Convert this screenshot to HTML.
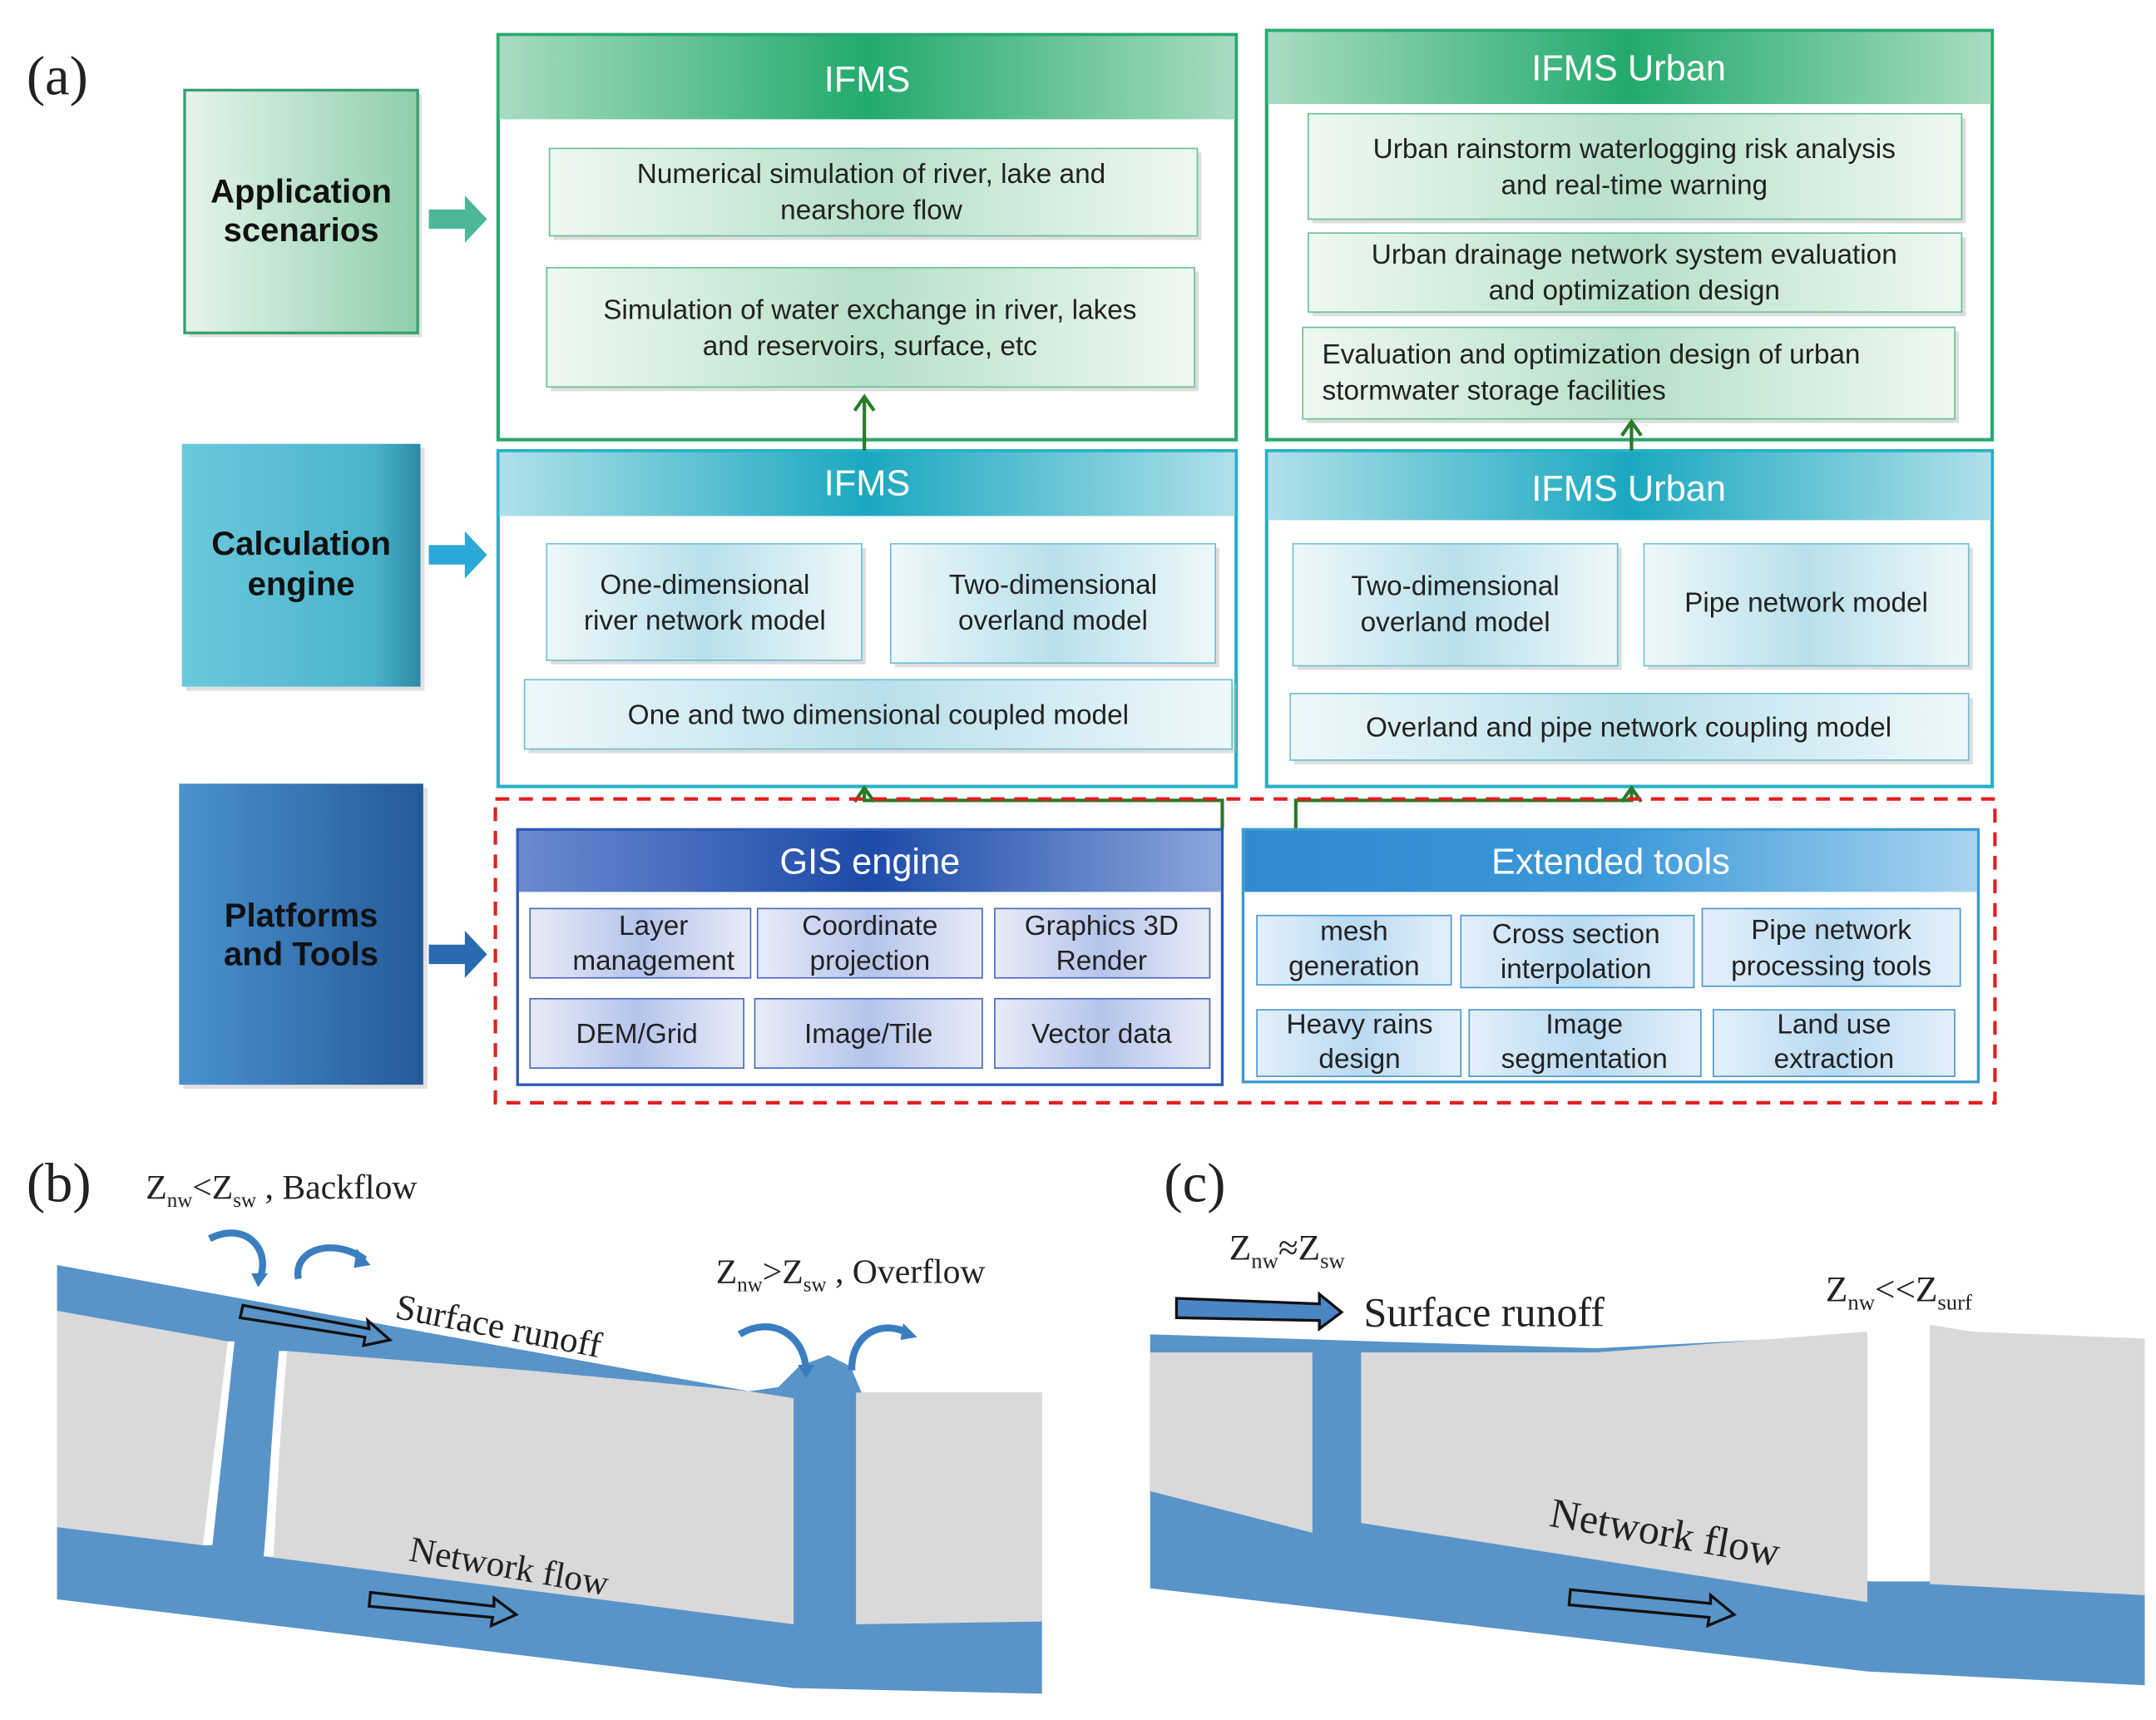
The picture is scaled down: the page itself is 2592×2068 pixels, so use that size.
<!DOCTYPE html>
<html><head><meta charset="utf-8"><style>
html,body{margin:0;padding:0;background:#fff;}
svg{display:block;}
.t{font-family:"Liberation Sans",sans-serif;font-size:20px;fill:#222;text-anchor:middle;}
.h{font-family:"Liberation Sans",sans-serif;font-size:26px;fill:#fff;text-anchor:middle;}
.b{font-family:"Liberation Sans",sans-serif;font-size:24px;font-weight:bold;fill:#111;text-anchor:middle;}
.s{font-family:"Liberation Serif",serif;fill:#222;}
</style></head><body>
<svg width="2592" height="2068" viewBox="0 0 1552 1240" xmlns="http://www.w3.org/2000/svg">
<defs>
<linearGradient id="gL" x1="0" x2="1"><stop offset="0" stop-color="#e6f4ec"/><stop offset="1" stop-color="#8fcfaa"/></linearGradient>
<linearGradient id="cL" x1="0" x2="1"><stop offset="0" stop-color="#6cc8dc"/><stop offset="0.8" stop-color="#4ab4cc"/><stop offset="1" stop-color="#2a8aa4"/></linearGradient>
<linearGradient id="bL" x1="0" x2="1"><stop offset="0" stop-color="#4a92d0"/><stop offset="1" stop-color="#255a98"/></linearGradient>
<linearGradient id="gH" x1="0" x2="1"><stop offset="0" stop-color="#a8dcc0"/><stop offset="0.5" stop-color="#22aa6c"/><stop offset="1" stop-color="#a8dcc0"/></linearGradient>
<linearGradient id="cH" x1="0" x2="1"><stop offset="0" stop-color="#b0e0ea"/><stop offset="0.5" stop-color="#1aa8c0"/><stop offset="1" stop-color="#b0e0ea"/></linearGradient>
<linearGradient id="bH" x1="0" x2="1"><stop offset="0" stop-color="#6a8ad0"/><stop offset="0.5" stop-color="#1c4aa8"/><stop offset="1" stop-color="#8aa6dc"/></linearGradient>
<linearGradient id="eH" x1="0" x2="1"><stop offset="0" stop-color="#2f8ad0"/><stop offset="0.5" stop-color="#3a98d8"/><stop offset="1" stop-color="#a8d4f0"/></linearGradient>
<linearGradient id="gC" x1="0" x2="1"><stop offset="0" stop-color="#eef8f2"/><stop offset="0.5" stop-color="#b6e0c8"/><stop offset="1" stop-color="#eef8f2"/></linearGradient>
<linearGradient id="cC" x1="0" x2="1"><stop offset="0" stop-color="#eef8fb"/><stop offset="0.5" stop-color="#b8e0ea"/><stop offset="1" stop-color="#eef8fb"/></linearGradient>
<linearGradient id="bC" x1="0" x2="1"><stop offset="0" stop-color="#e8ecf8"/><stop offset="0.5" stop-color="#b4c4ea"/><stop offset="1" stop-color="#e8ecf8"/></linearGradient>
<linearGradient id="eC" x1="0" x2="1"><stop offset="0" stop-color="#e4f0fa"/><stop offset="0.5" stop-color="#b8daf2"/><stop offset="1" stop-color="#e4f0fa"/></linearGradient>
</defs>

<text x="18" y="68" class="s" font-size="40">(a)</text>

<rect x="135" y="68" width="168" height="175" fill="#ccc" opacity=".6"/>
<rect x="132" y="65" width="168" height="175" fill="url(#gL)" stroke="#3aa070" stroke-width="2"/>
<text x="216" y="146" class="b">Application</text><text x="216" y="174" class="b">scenarios</text>
<rect x="133" y="323" width="172" height="175" fill="#ccc" opacity=".6"/>
<rect x="130" y="320" width="172" height="175" fill="url(#cL)"/>
<text x="216" y="400" class="b">Calculation</text><text x="216" y="429" class="b">engine</text>
<rect x="131" y="568" width="176" height="217" fill="#ccc" opacity=".6"/>
<rect x="128" y="565" width="176" height="217" fill="url(#bL)"/>
<text x="216" y="668" class="b">Platforms</text><text x="216" y="696" class="b">and Tools</text>
<path d="M308,151 h26 v-10 l16,17 -16,17 v-10 h-26z" fill="#4ab898"/>
<path d="M308,393 h26 v-10 l16,17 -16,17 v-10 h-26z" fill="#2aa8d8"/>
<path d="M308,681 h26 v-10 l16,17 -16,17 v-10 h-26z" fill="#2a6ab0"/>

<rect x="358" y="25" width="532" height="292" fill="#fff" stroke="#2aa870" stroke-width="2.5"/>
<rect x="359" y="26" width="530" height="60" fill="url(#gH)"/>
<text x="624" y="66" class="h">IFMS</text>
<rect x="398" y="110" width="467" height="63" fill="#bbb" opacity=".5"/>
<rect x="395" y="107" width="467" height="63" fill="url(#gC)" stroke="#6cc098"/>
<text x="627" y="132" class="t">Numerical simulation of river, lake and</text>
<text x="627" y="158" class="t">nearshore flow</text>
<rect x="396" y="196" width="467" height="86" fill="#bbb" opacity=".5"/>
<rect x="393" y="193" width="467" height="86" fill="url(#gC)" stroke="#6cc098"/>
<text x="626" y="230" class="t">Simulation of water exchange in river, lakes</text>
<text x="626" y="256" class="t">and reservoirs, surface, etc</text>

<rect x="912" y="22" width="523" height="295" fill="#fff" stroke="#2aa870" stroke-width="2.5"/>
<rect x="913" y="23" width="521" height="52" fill="url(#gH)"/>
<text x="1173" y="58" class="h">IFMS Urban</text>
<rect x="945" y="85" width="471" height="76" fill="#bbb" opacity=".5"/>
<rect x="942" y="82" width="471" height="76" fill="url(#gC)" stroke="#6cc098"/>
<text x="1177" y="114" class="t">Urban rainstorm waterlogging risk analysis</text>
<text x="1177" y="140" class="t">and real-time warning</text>
<rect x="945" y="171" width="471" height="57" fill="#bbb" opacity=".5"/>
<rect x="942" y="168" width="471" height="57" fill="url(#gC)" stroke="#6cc098"/>
<text x="1177" y="190" class="t">Urban drainage network system evaluation</text>
<text x="1177" y="216" class="t">and optimization design</text>
<rect x="941" y="239" width="470" height="66" fill="#bbb" opacity=".5"/>
<rect x="938" y="236" width="470" height="66" fill="url(#gC)" stroke="#6cc098"/>
<text x="952" y="262" class="t" style="text-anchor:start">Evaluation and optimization design of urban</text>
<text x="952" y="288" class="t" style="text-anchor:start">stormwater storage facilities</text>

<rect x="358" y="325" width="532" height="242" fill="#fff" stroke="#2ab0c8" stroke-width="2.5"/>
<rect x="359" y="326" width="530" height="46" fill="url(#cH)"/>
<text x="624" y="357" class="h">IFMS</text>
<rect x="396" y="395" width="227" height="84" fill="#bbb" opacity=".5"/>
<rect x="393" y="392" width="227" height="84" fill="url(#cC)" stroke="#70c0d4"/>
<text x="507" y="428" class="t">One-dimensional</text><text x="507" y="454" class="t">river network model</text>
<rect x="644" y="395" width="234" height="86" fill="#bbb" opacity=".5"/>
<rect x="641" y="392" width="234" height="86" fill="url(#cC)" stroke="#70c0d4"/>
<text x="758" y="428" class="t">Two-dimensional</text><text x="758" y="454" class="t">overland model</text>
<rect x="380" y="493" width="510" height="50" fill="#bbb" opacity=".5"/>
<rect x="377" y="490" width="510" height="50" fill="url(#cC)" stroke="#70c0d4"/>
<text x="632" y="522" class="t">One and two dimensional coupled model</text>

<rect x="912" y="325" width="523" height="242" fill="#fff" stroke="#2ab0c8" stroke-width="2.5"/>
<rect x="913" y="326" width="521" height="49" fill="url(#cH)"/>
<text x="1173" y="361" class="h">IFMS Urban</text>
<rect x="934" y="395" width="234" height="88" fill="#bbb" opacity=".5"/>
<rect x="931" y="392" width="234" height="88" fill="url(#cC)" stroke="#70c0d4"/>
<text x="1048" y="429" class="t">Two-dimensional</text><text x="1048" y="455" class="t">overland model</text>
<rect x="1187" y="395" width="234" height="88" fill="#bbb" opacity=".5"/>
<rect x="1184" y="392" width="234" height="88" fill="url(#cC)" stroke="#70c0d4"/>
<text x="1301" y="441" class="t">Pipe network model</text>
<rect x="932" y="503" width="489" height="48" fill="#bbb" opacity=".5"/>
<rect x="929" y="500" width="489" height="48" fill="url(#cC)" stroke="#70c0d4"/>
<text x="1173" y="531" class="t">Overland and pipe network coupling model</text>

<g stroke="#2a7a2a" stroke-width="2.5" fill="none">
<path d="M622,325 V287"/><path d="M615,296 l7,-10 7,10"/>
<path d="M1175,325 V306"/><path d="M1168,314 l7,-10 7,10"/>
<path d="M880,598 V577 H622 V569"/><path d="M615,578 l7,-10 7,10"/>
<path d="M933,598 V577 H1175 V569"/><path d="M1168,578 l7,-10 7,10"/>
</g>

<rect x="356" y="576" width="1081" height="219" fill="none" stroke="#e02020" stroke-width="2.5" stroke-dasharray="10,7"/>

<rect x="372" y="598" width="508" height="184" fill="#fff" stroke="#2a5ab8" stroke-width="2"/>
<rect x="373" y="599" width="506" height="44" fill="url(#bH)"/>
<text x="626" y="630" class="h">GIS engine</text>
<g fill="url(#bC)" stroke="#4a6ac0">
<rect x="381" y="655" width="159" height="50"/><rect x="545" y="655" width="162" height="50"/><rect x="716" y="655" width="155" height="50"/>
<rect x="381" y="720" width="154" height="50"/><rect x="543" y="720" width="164" height="50"/><rect x="716" y="720" width="155" height="50"/>
</g>
<text x="470" y="674" class="t">Layer</text><text x="470" y="699" class="t">management</text>
<text x="626" y="674" class="t">Coordinate</text><text x="626" y="699" class="t">projection</text>
<text x="793" y="674" class="t">Graphics 3D</text><text x="793" y="699" class="t">Render</text>
<text x="458" y="752" class="t">DEM/Grid</text><text x="625" y="752" class="t">Image/Tile</text><text x="793" y="752" class="t">Vector data</text>

<rect x="895" y="598" width="530" height="182" fill="#fff" stroke="#3a9ad0" stroke-width="2"/>
<rect x="896" y="599" width="528" height="44" fill="url(#eH)"/>
<text x="1160" y="630" class="h">Extended tools</text>
<g fill="url(#eC)" stroke="#4a9ad0">
<rect x="905" y="660" width="140" height="50"/><rect x="1052" y="660" width="168" height="52"/><rect x="1226" y="655" width="186" height="56"/>
<rect x="905" y="728" width="147" height="48"/><rect x="1058" y="728" width="167" height="48"/><rect x="1234" y="728" width="174" height="48"/>
</g>
<text x="975" y="678" class="t">mesh</text><text x="975" y="703" class="t">generation</text>
<text x="1135" y="680" class="t">Cross section</text><text x="1135" y="705" class="t">interpolation</text>
<text x="1319" y="677" class="t">Pipe network</text><text x="1319" y="703" class="t">processing tools</text>
<text x="979" y="745" class="t">Heavy rains</text><text x="979" y="770" class="t">design</text>
<text x="1141" y="745" class="t">Image</text><text x="1141" y="770" class="t">segmentation</text>
<text x="1321" y="745" class="t">Land use</text><text x="1321" y="770" class="t">extraction</text>

<!-- (b) -->
<text x="18" y="866" class="s" font-size="40">(b)</text>
<text x="104" y="864" class="s" font-size="25">Z<tspan font-size="15" dy="6">nw</tspan><tspan dy="-6">&lt;Z</tspan><tspan font-size="15" dy="6">sw</tspan><tspan dy="-6"> , Backflow</tspan></text>
<polygon points="40,912 539,1003 560,1000 575,985 596,977 612,985 620,1004 750,1004 750,1221 571,1217 40,1153" fill="#5894c8"/>
<polygon points="40,945 163,967 145,1114 40,1101" fill="#d9d9d9"/>
<polygon points="206,974 380,988 539,1003 571,1008 571,1171 189,1122" fill="#d9d9d9"/>
<polygon points="616,1004 750,1004 750,1169 616,1171" fill="#d9d9d9"/>
<path d="M163,967 L145,1114 L152,1114 L168,967z" fill="#fff"/>
<path d="M200,974 C194,1040 192,1090 189,1122 L196,1122 C198,1090 200,1040 206,974z" fill="#fff"/>
<g fill="none" stroke="#3a7ec0" stroke-width="5">
<path d="M150,893 C175,880 195,900 186,922"/><path d="M214,922 C210,900 240,892 262,908"/>
<path d="M532,962 C555,948 580,962 580,990"/><path d="M613,988 C612,962 635,950 655,962"/>
</g>
<g fill="#3a7ec0"><path d="M180,918 l12,0 -7,10z"/><path d="M256,900 l10,12 -12,2z"/><path d="M574,984 l12,0 -6,10z"/><path d="M650,954 l10,10 -12,2z"/></g>
<g fill="none" stroke="#111" stroke-width="2">
<path d="M174,941 L265,958 L264,952 L280,966 L261,970 L262,964 L172,950z"/>
<path d="M266,1148 L355,1158 L355,1152 L371,1164 L353,1172 L354,1166 L265,1158z"/>
</g>
<text class="s" font-size="26" transform="translate(283,950) rotate(11)">Surface runoff</text>
<text class="s" font-size="26" transform="translate(293,1125) rotate(10)">Network flow</text>
<text x="515" y="925" class="s" font-size="25">Z<tspan font-size="15" dy="6">nw</tspan><tspan dy="-6">&gt;Z</tspan><tspan font-size="15" dy="6">sw</tspan><tspan dy="-6"> , Overflow</tspan></text>

<!-- (c) -->
<text x="838" y="866" class="s" font-size="40">(c)</text>
<text x="885" y="908" class="s" font-size="26">Z<tspan font-size="16" dy="6">nw</tspan><tspan dy="-6">≈Z</tspan><tspan font-size="16" dy="6">sw</tspan></text>
<text x="1315" y="938" class="s" font-size="26">Z<tspan font-size="16" dy="6">nw</tspan><tspan dy="-6">&lt;&lt;Z</tspan><tspan font-size="16" dy="6">surf</tspan></text>
<polygon points="828,962 1150,972 1345,962 1345,1140 1390,1140 1545,1150 1545,1215 1345,1205 828,1145" fill="#5894c8"/>
<polygon points="828,975 945,975 945,1105 828,1075" fill="#d9d9d9"/>
<polygon points="980,975 1150,975 1345,960 1345,1155 980,1098" fill="#d9d9d9"/>
<polygon points="1390,955 1420,960 1545,965 1545,1150 1390,1142" fill="#d9d9d9"/>
<rect x="945" y="972" width="35" height="130" fill="#5894c8"/>
<rect x="1348" y="950" width="42" height="190" fill="#fff"/>
<path d="M847,936 L950,940 L950,933 L966,946 L950,958 L950,952 L847,950z" fill="#4a86c4" stroke="#111" stroke-width="2"/>
<text x="982" y="956" class="s" font-size="30">Surface runoff</text>
<text class="s" font-size="30" transform="translate(1115,1100) rotate(10)">Network flow</text>
<path d="M1131,1146 L1232,1156 L1232,1150 L1249,1164 L1230,1172 L1231,1166 L1130,1157z" fill="none" stroke="#111" stroke-width="2"/>
</svg>
</body></html>
